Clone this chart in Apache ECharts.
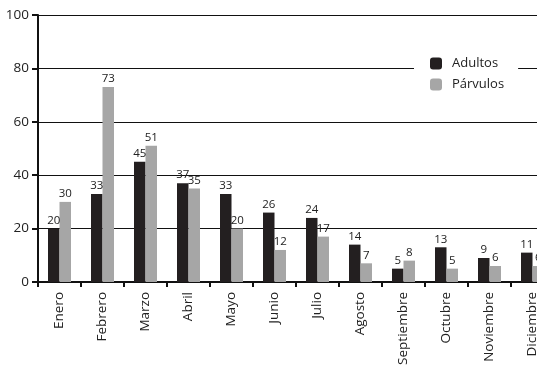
<!DOCTYPE html>
<html>
<head>
<meta charset="utf-8">
<script src="https://cdn.jsdelivr.net/npm/echarts@6/dist/echarts.min.js"></script>
<style>
  html, body { margin: 0; padding: 0; background: #fff; overflow: hidden; }
  /* the plot runs past the right edge of the picture, as in the original */
  #chart { width: 554px; height: 371px; }
</style>
</head>
<body>
<div id="chart"></div>
<script>
const months = ['Enero', 'Febrero', 'Marzo', 'Abril', 'Mayo', 'Junio', 'Julio',
  'Agosto', 'Septiembre', 'Octubre', 'Noviembre', 'Diciembre'];
const adultos = [20, 33, 45, 37, 33, 26, 24, 14, 5, 13, 9, 11];
const parvulos = [30, 73, 51, 35, 20, 12, 17, 7, 8, 5, 6, 6];

const chart = echarts.init(document.getElementById('chart'));
const font = 'Open Sans';

const barLabel = {
  show: true,
  position: 'top',
  distance: 2,
  fontFamily: font,
  fontSize: 11.5,
  color: '#222'
};

chart.setOption({
  animation: false,
  backgroundColor: '#fff',
  grid: { left: 38, right: 0, top: 15, bottom: 89 },
  legend: {
    orient: 'vertical',
    left: 414,
    top: 52,
    itemWidth: 12,
    itemHeight: 12,
    itemGap: 8,
    padding: [5, 14, 5, 16],
    backgroundColor: '#fff',
    textStyle: { fontFamily: font, fontSize: 13, color: '#222', padding: [0, 0, 0, 5] },
    data: ['Adultos', 'Párvulos']
  },
  xAxis: {
    type: 'category',
    data: months,
    axisLine: { lineStyle: { color: '#111', width: 2 } },
    axisTick: { show: true, length: 5, lineStyle: { color: '#111', width: 2 } },
    axisLabel: {
      rotate: 90,
      interval: 0,
      margin: 10,
      fontFamily: font,
      fontSize: 13.5,
      color: '#222'
    }
  },
  yAxis: {
    type: 'value',
    min: 0,
    max: 100,
    interval: 20,
    axisLine: { show: true, lineStyle: { color: '#111', width: 2 } },
    axisTick: { show: true, length: 6, lineStyle: { color: '#111', width: 2 } },
    axisLabel: { margin: 9, fontFamily: font, fontSize: 13.5, color: '#222' },
    splitLine: { lineStyle: { color: '#111', width: 1 } }
  },
  series: [
    {
      name: 'Adultos',
      type: 'bar',
      data: adultos,
      barWidth: 11.5,
      barGap: '0%',
      itemStyle: { color: '#231f20' },
      label: barLabel
    },
    {
      name: 'Párvulos',
      type: 'bar',
      data: parvulos,
      barWidth: 11.5,
      itemStyle: { color: '#a6a6a6' },
      label: barLabel
    }
  ]
});
</script>
</body>
</html>
